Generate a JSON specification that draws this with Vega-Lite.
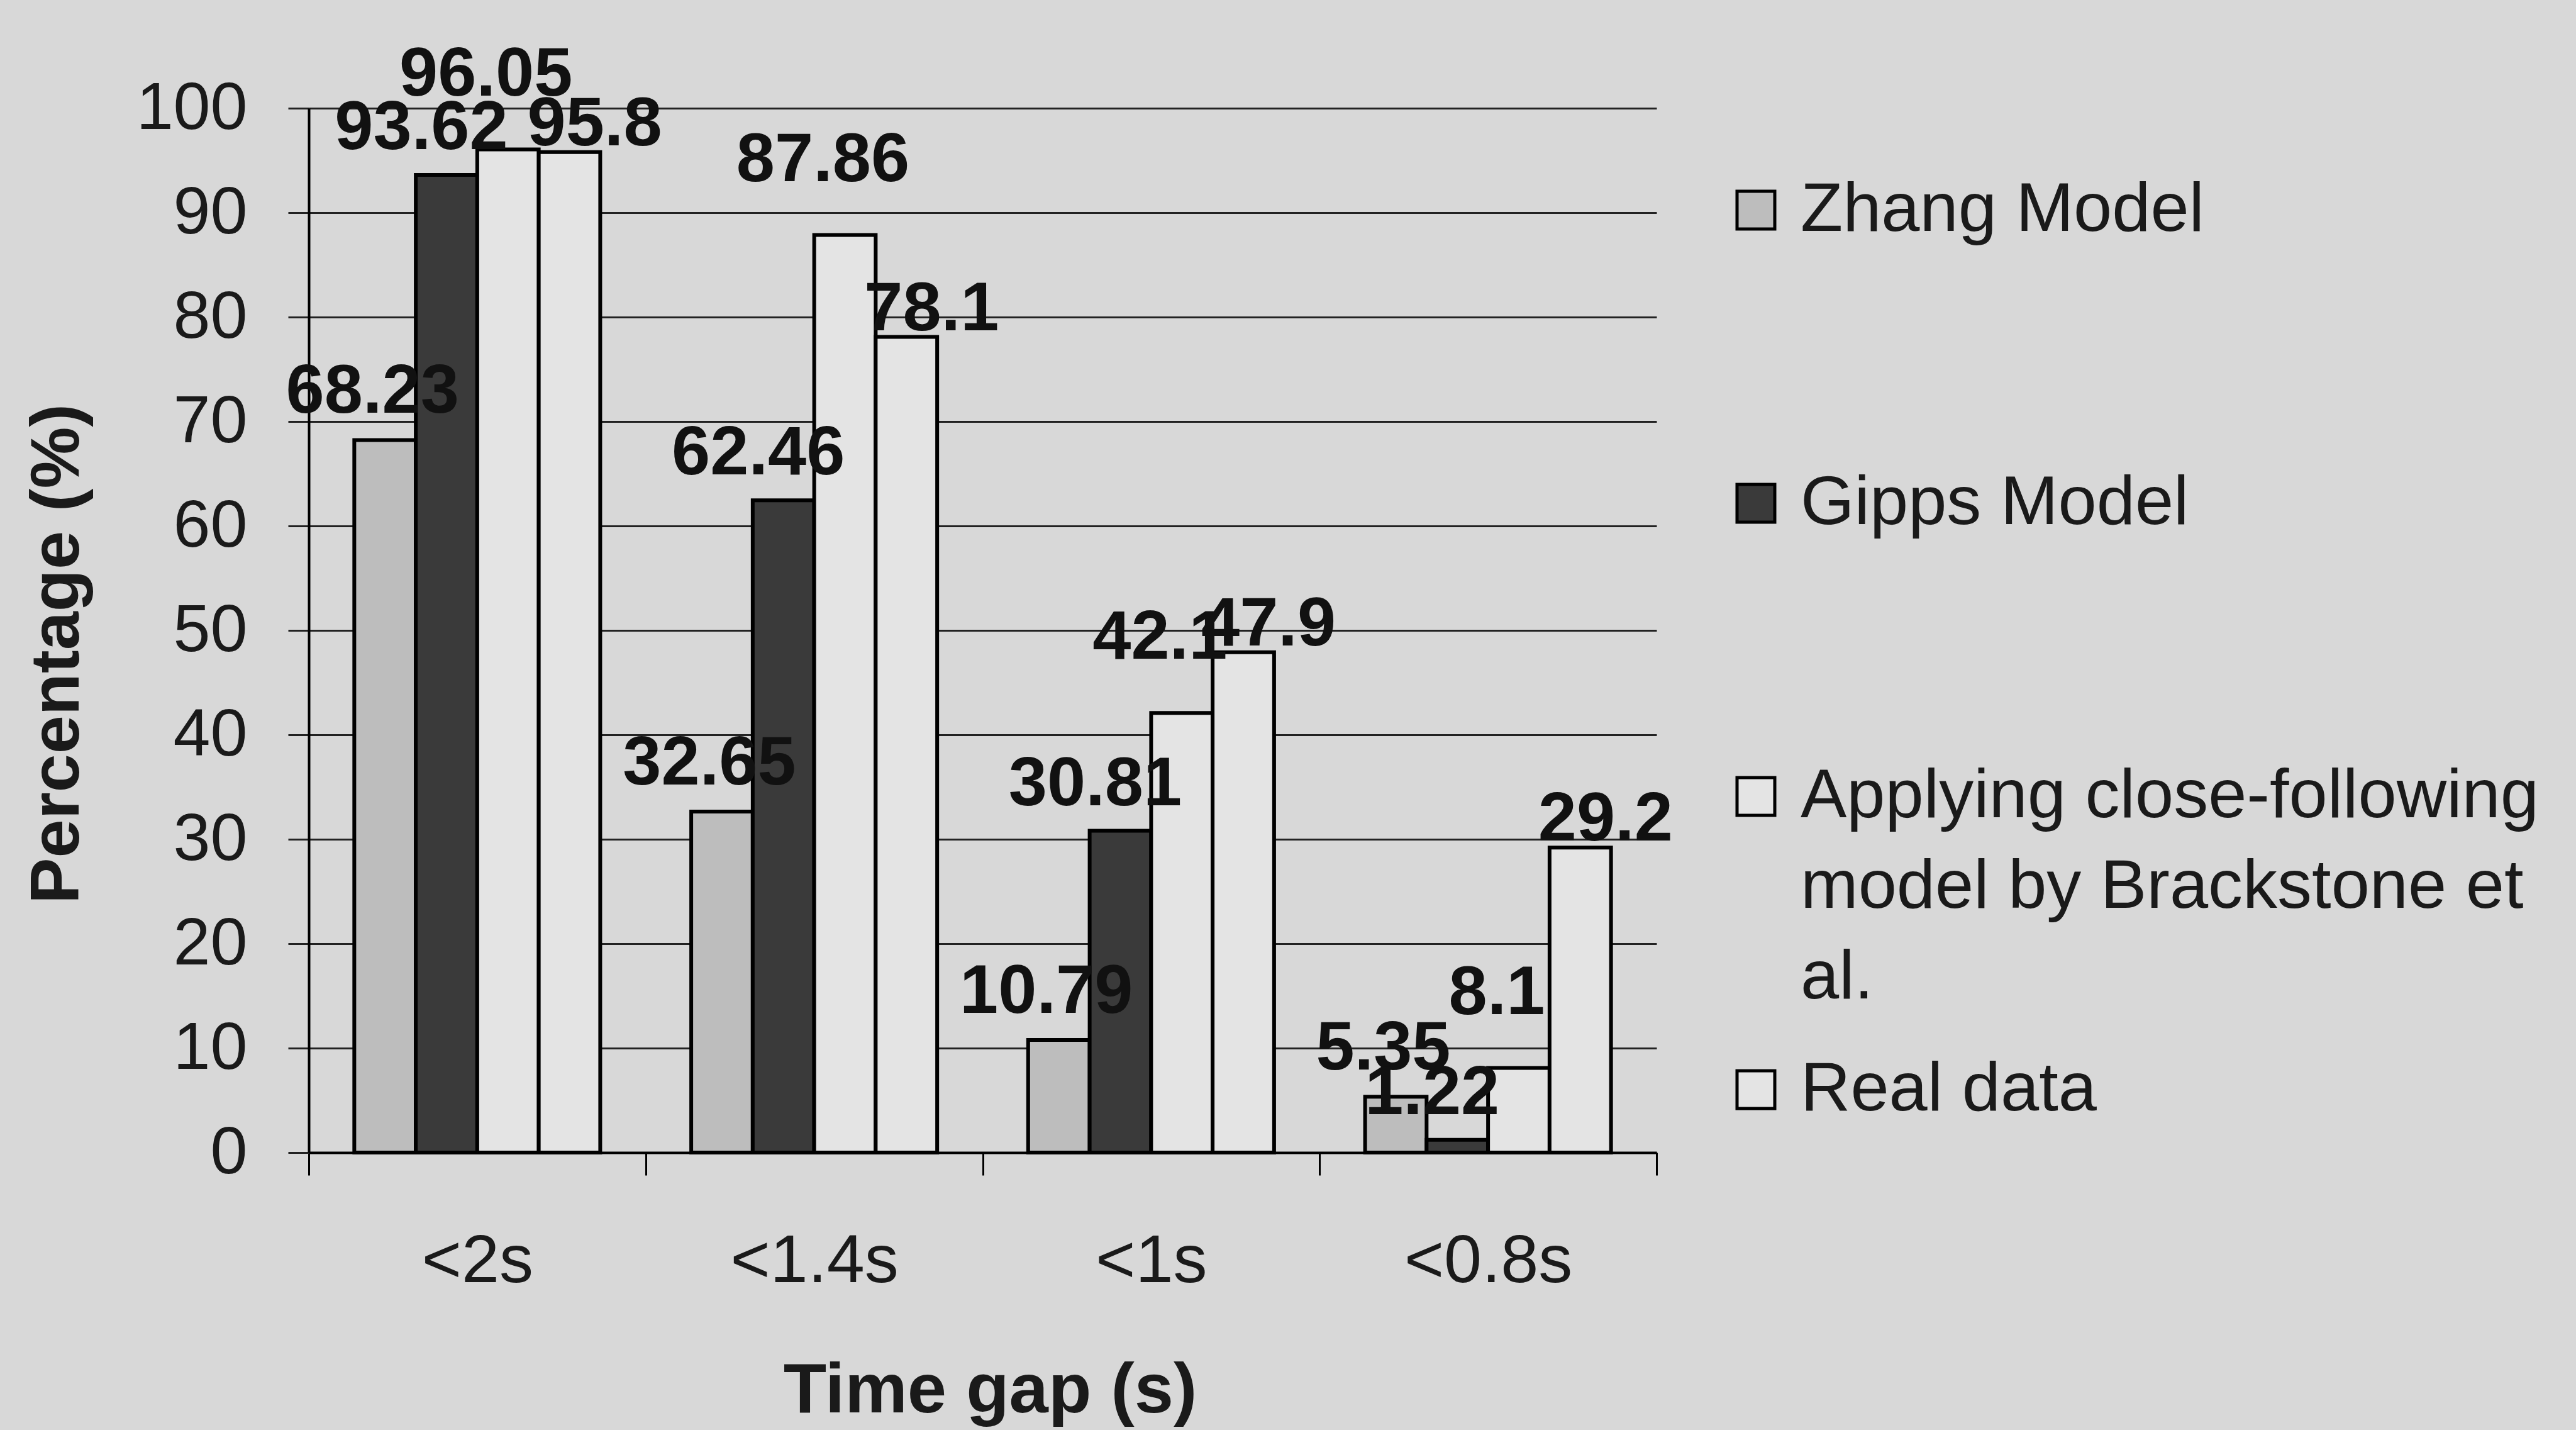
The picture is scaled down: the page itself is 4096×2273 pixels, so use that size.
{
  "$schema": "https://vega.github.io/schema/vega-lite/v6.json",
  "width": 2143,
  "height": 1660,
  "autosize": {"type": "none"},
  "padding": {"left": 491, "top": 172, "right": 1462, "bottom": 441},
  "background": "#d8d8d8",
  "config": {"view": {"stroke": null}, "font": "Liberation Sans"},
  "data": {
    "values": [
      {"gap": "<2s", "series": "Zhang Model", "value": 68.23},
      {"gap": "<2s", "series": "Gipps Model", "value": 93.62},
      {"gap": "<2s", "series": "Applying close-following model by Brackstone et al.", "value": 96.05},
      {"gap": "<2s", "series": "Real data", "value": 95.8},
      {"gap": "<1.4s", "series": "Zhang Model", "value": 32.65},
      {"gap": "<1.4s", "series": "Gipps Model", "value": 62.46},
      {"gap": "<1.4s", "series": "Applying close-following model by Brackstone et al.", "value": 87.86},
      {"gap": "<1.4s", "series": "Real data", "value": 78.1},
      {"gap": "<1s", "series": "Zhang Model", "value": 10.79},
      {"gap": "<1s", "series": "Gipps Model", "value": 30.81},
      {"gap": "<1s", "series": "Applying close-following model by Brackstone et al.", "value": 42.1},
      {"gap": "<1s", "series": "Real data", "value": 47.9},
      {"gap": "<0.8s", "series": "Zhang Model", "value": 5.35},
      {"gap": "<0.8s", "series": "Gipps Model", "value": 1.22},
      {"gap": "<0.8s", "series": "Applying close-following model by Brackstone et al.", "value": 8.1},
      {"gap": "<0.8s", "series": "Real data", "value": 29.2}
    ]
  },
  "encoding": {
    "x": {
      "field": "gap",
      "type": "nominal",
      "sort": ["<2s", "<1.4s", "<1s", "<0.8s"],
      "scale": {"paddingInner": 0, "paddingOuter": 0},
      "axis": {
        "title": "Time gap (s)",
        "labelAngle": 0,
        "labelLimit": 1000,
        "tickBand": "extent",
        "tickSize": 36,
        "tickColor": "#000",
        "tickWidth": 3,
        "domainColor": "#000",
        "domainWidth": 4,
        "labelFont": "Liberation Sans",
        "labelFontSize": 108,
        "labelColor": "#1a1a1a",
        "labelPadding": 137,
        "labelBaseline": "middle",
        "titleFont": "Liberation Sans",
        "titleFontSize": 112,
        "titleFontWeight": "bold",
        "titleColor": "#1a1a1a",
        "titleX": 1083,
        "titleY": 378,
        "titleBaseline": "middle",
        "titleAlign": "center",
        "titleLimit": 2000,
        "grid": false
      }
    },
    "xOffset": {
      "field": "series",
      "type": "nominal",
      "sort": ["Zhang Model", "Gipps Model", "Applying close-following model by Brackstone et al.", "Real data"],
      "scale": {"paddingInner": 0, "paddingOuter": 0.74}
    },
    "y": {
      "field": "value",
      "type": "quantitative",
      "scale": {"domain": [0, 100], "nice": false},
      "axis": {
        "values": [0, 10, 20, 30, 40, 50, 60, 70, 80, 90, 100],
        "title": "Percentage (%)",
        "grid": true,
        "gridColor": "#222",
        "gridWidth": 3,
        "domainColor": "#000",
        "domainWidth": 4,
        "tickColor": "#222",
        "tickWidth": 3,
        "tickSize": 33,
        "labelFont": "Liberation Sans",
        "labelFontSize": 106,
        "labelColor": "#1a1a1a",
        "labelPadding": 65,
        "labelFlush": false,
        "labelOverlap": false,
        "titleFont": "Liberation Sans",
        "titleFontSize": 110,
        "titleFontWeight": "bold",
        "titleColor": "#1a1a1a",
        "titleX": -400,
        "titleY": 867,
        "titleAngle": -90,
        "titleAlign": "center",
        "titleBaseline": "middle",
        "titleLimit": 2000
      }
    }
  },
  "layer": [
    {
      "mark": {"type": "bar", "stroke": "#000", "strokeWidth": 6},
      "encoding": {
        "fill": {
          "field": "series",
          "type": "nominal",
          "scale": {
            "domain": ["Zhang Model", "Gipps Model", "Applying close-following model by Brackstone et al.", "Real data"],
            "range": ["#bdbdbd", "#3a3a3a", "#e4e4e4", "#e4e4e4"]
          },
          "legend": {
            "title": null,
            "orient": "none",
            "legendX": 2246,
            "legendY": 107,
            "padding": 0,
            "symbolType": "square",
            "symbolSize": 3600,
            "symbolStrokeColor": "#000",
            "symbolStrokeWidth": 5,
            "symbolOpacity": 1,
            "labelFont": "Liberation Sans",
            "labelFontSize": 110,
            "labelColor": "#1a1a1a",
            "labelOffset": 16,
            "labelLimit": 3000,
            "rowPadding": 68,
            "gridAlign": "all",
            "labelExpr": "datum.label == 'Applying close-following model by Brackstone et al.' ? ['Applying close-following', 'model by Brackstone et', 'al.'] : datum.label",
            "encode": {
              "labels": {
                "update": {
                  "lineHeight": {"value": 144}
                }
              }
            }
          }
        }
      }
    },
    {
      "transform": [{"filter": "datum.series == 'Zhang Model'"}],
      "mark": {"type": "text", "font": "Liberation Sans", "fontSize": 110, "fontWeight": "bold", "baseline": "middle", "dy": -76, "dx": -20, "color": "#111"},
      "encoding": {"text": {"field": "value", "type": "quantitative", "format": ""}}
    },
    {
      "transform": [{"filter": "datum.series == 'Gipps Model'"}],
      "mark": {"type": "text", "font": "Liberation Sans", "fontSize": 110, "fontWeight": "bold", "baseline": "middle", "dy": -74, "dx": -40, "color": "#111"},
      "encoding": {"text": {"field": "value", "type": "quantitative", "format": ""}}
    },
    {
      "transform": [{"filter": "datum.series == 'Applying close-following model by Brackstone et al.'"}],
      "mark": {"type": "text", "font": "Liberation Sans", "fontSize": 110, "fontWeight": "bold", "baseline": "middle", "dy": -119, "dx": -35, "color": "#111"},
      "encoding": {"text": {"field": "value", "type": "quantitative", "format": ""}}
    },
    {
      "transform": [{"filter": "datum.series == 'Real data'"}],
      "mark": {"type": "text", "font": "Liberation Sans", "fontSize": 110, "fontWeight": "bold", "baseline": "middle", "dy": -44, "dx": 40, "color": "#111"},
      "encoding": {"text": {"field": "value", "type": "quantitative", "format": ""}}
    }
  ]
}
